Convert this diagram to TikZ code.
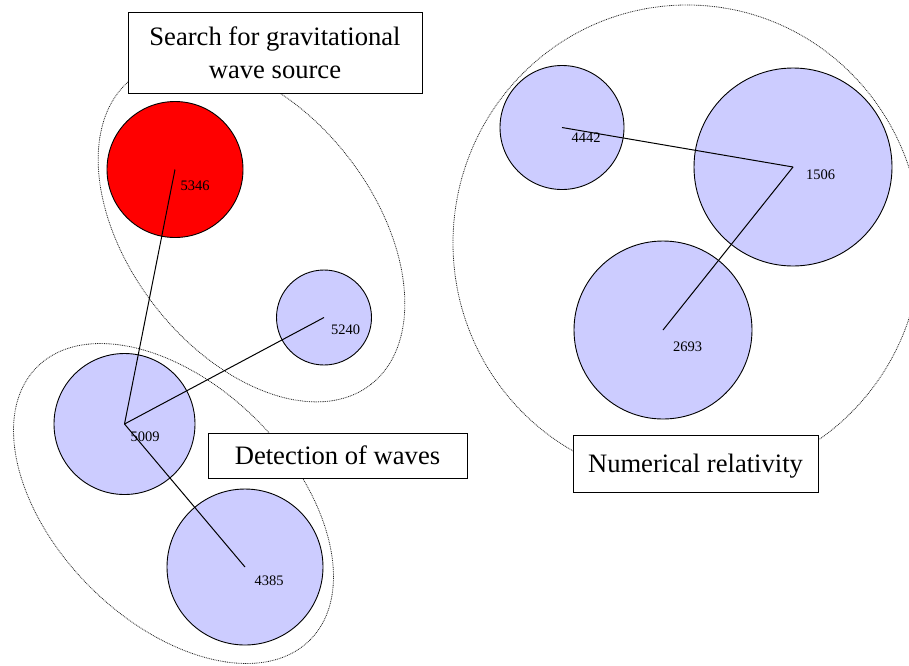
\documentclass[tikz,border=0pt]{standalone}
\usepackage{fontspec}
\setmainfont{Liberation Serif}
\definecolor{lilac}{RGB}{204,204,255}

\begin{document}
\begin{tikzpicture}[x=1pt,y=-1pt,
    bubble/.style={circle,draw,line width=0.9pt,inner sep=0pt},
    num/.style={font=\fontsize{14.5}{16}\selectfont,inner sep=0pt},
    link/.style={line width=1pt},
    group/.style={line width=0.8pt,black!85,dash pattern=on 0.9pt off 0.9pt},
    topic/.style={draw,fill=white,line width=0.9pt,align=center,inner sep=0pt,
      text depth=0pt,font=\fontsize{26.6}{33}\selectfont}]
    \useasboundingbox (0,0) rectangle (909,665);
    \draw[group,rotate around={-52:(251.5,231.5)}] (251.5,231.5) ellipse [x radius=194,y radius=122];
    \draw[group,rotate around={-45:(173.5,503.5)}] (173.5,503.5) ellipse [x radius=193,y radius=118];
    \draw[group] (687,243) ellipse [x radius=234,y radius=238];
    \foreach \n/\x/\y/\r/\dx/\dy/\c in {5346/175/169.5/68/20/16.5/red,
        5240/324/317.5/47.5/21.5/12.5/lilac,5009/124.5/424/70.5/20.5/12.5/lilac,
        4385/245/567/78/24/13.5/lilac,4442/562/127.5/62/24/10.5/lilac,
        1506/793/167/99/27.5/8/lilac,2693/663/330/89/24.5/17/lilac}
    {
      \node[bubble,fill=\c,minimum size=2*\r] (b\n) at (\x,\y) {};
      \node[num] (t\n) at (\x+\dx,\y+\dy) {\n};
    }
    \draw[link] (b5009.center) -- (b5346.center);
    \draw[link] (b5009.center) -- (b5240.center);
    \draw[link] (b5009.center) -- (b4385.center);
    \draw[link] (b1506.center) -- (b4442.center);
    \draw[link] (b1506.center) -- (b2693.center);
    \node[topic,minimum width=294,minimum height=81] (search) at (275,52.5)
      {Search for gravitational\\wave source};
    \node[topic,minimum width=259,minimum height=45] (detect) at (337.5,455.5)
      {Detection of waves};
    \node[topic,minimum width=245,minimum height=57] (numrel) at (695.5,463.5)
      {Numerical relativity};
\end{tikzpicture}
\end{document}
